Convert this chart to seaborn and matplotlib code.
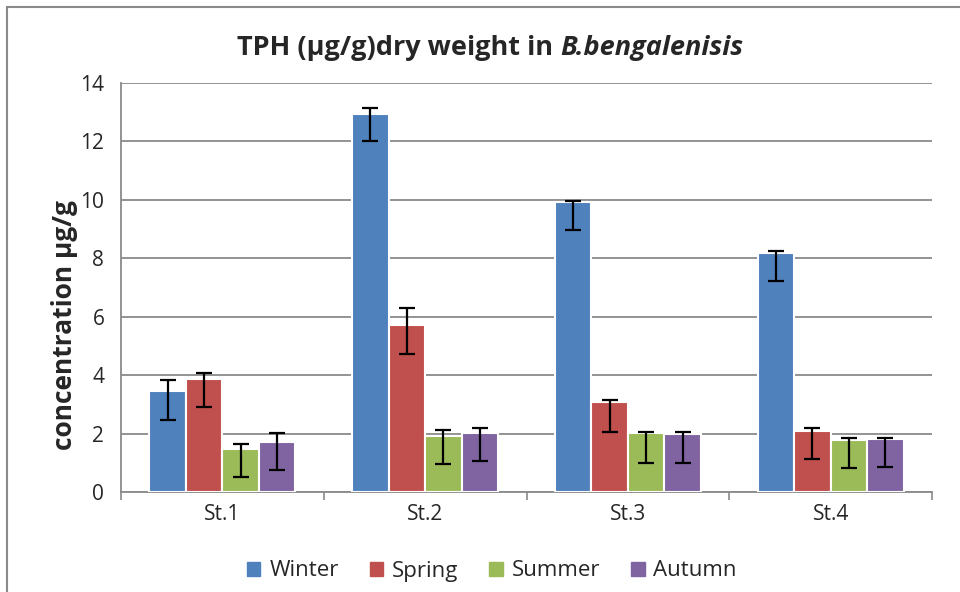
import pandas as pd
import seaborn as sns
import matplotlib.pyplot as plt
from matplotlib.patches import Rectangle

stations = ['St.1', 'St.2', 'St.3', 'St.4']
seasons = ['Winter', 'Spring', 'Summer', 'Autumn']
colors = ['#4F81BD', '#C0504D', '#9BBB59', '#8064A2']

winter = [3.47, 12.94, 9.92, 8.17]
spring = [3.88, 5.70, 3.09, 2.09]
summer = [1.48, 1.92, 2.02, 1.78]
autumn = [1.72, 2.02, 2.00, 1.82]

# error bar ends (asymmetric)
err_low = {
    'Winter': [2.47, 12.01, 8.96, 7.21],
    'Spring': [2.92, 4.74, 2.06, 1.13],
    'Summer': [0.51, 0.96, 1.00, 0.82],
    'Autumn': [0.75, 1.06, 1.00, 0.86],
}
err_high = {
    'Winter': [3.84, 13.14, 9.95, 8.24],
    'Spring': [4.08, 6.31, 3.16, 2.20],
    'Summer': [1.65, 2.13, 2.06, 1.85],
    'Autumn': [2.02, 2.20, 2.06, 1.86],
}

values = {'Winter': winter, 'Spring': spring, 'Summer': summer, 'Autumn': autumn}
rows = []
for s in seasons:
    for st, v in zip(stations, values[s]):
        rows.append({'Station': st, 'Season': s, 'TPH': v})
df = pd.DataFrame(rows)

sns.set_style('white')
plt.rcParams['font.family'] = ['Open Sans', 'DejaVu Sans']

fig = plt.figure(figsize=(9.6, 5.92), dpi=100)
ax = fig.add_axes([121 / 960, 1 - 492 / 592, (932 - 121) / 960, (492 - 83) / 592])

sns.barplot(data=df, x='Station', y='TPH', hue='Season', order=stations,
            hue_order=seasons, palette=colors, width=0.72, edgecolor='white',
            linewidth=1.5, errorbar=None, saturation=1, ax=ax, zorder=3)

for cont, s in zip(ax.containers, seasons):
    for bar, v, lo, hi in zip(cont, values[s], err_low[s], err_high[s]):
        xc = bar.get_x() + bar.get_width() / 2
        ax.errorbar(xc, v, yerr=[[v - lo], [hi - v]], fmt='none', ecolor='black',
                    elinewidth=1.6, capsize=5.5, capthick=1.6, zorder=5)

ax.set_ylim(0, 14)
ax.set_xlim(-0.5, 3.5)
ax.set_yticks(range(0, 15, 2))
ax.yaxis.grid(True, color='#8a8a8a', linewidth=1.3, zorder=0)
ax.set_axisbelow(True)
ax.set_xticks([x - 0.5 for x in range(5)], minor=True)
ax.tick_params(axis='x', which='major', length=0, pad=9, labelsize=15)
ax.tick_params(axis='x', which='minor', length=6, width=1.2, color='#8a8a8a', direction='out')
ax.tick_params(axis='y', length=6, width=1.2, color='#8a8a8a', direction='out', labelsize=15, pad=6)
ax.tick_params(axis='x', which='both', bottom=True)
for side in ['top', 'right']:
    ax.spines[side].set_visible(False)
for side in ['left', 'bottom']:
    ax.spines[side].set_color('#8a8a8a')
    ax.spines[side].set_linewidth(1.3)
ax.set_xlabel('')
ax.set_ylabel('')

fig.text(65 / 960, 1 - 325 / 592, 'concentration µg/g', rotation=90, fontsize=19,
         fontweight='bold', ha='center', va='center')

# title in two pieces: bold, then bold italic species name, centred together
ty = 1 - 48 / 592
t1 = fig.text(0, ty, 'TPH (µg/g)dry weight in ', fontsize=19.5,
              fontweight='bold', ha='left', va='center')
t2 = fig.text(0, ty, 'B.bengalenisis', fontsize=19.5,
              fontweight='bold', fontstyle='italic', ha='left', va='center')
fig.canvas.draw()
w1 = t1.get_window_extent().width
w2 = t2.get_window_extent().width
x0 = 490 - (w1 + w2) / 2
t1.set_x(x0 / 960)
t2.set_x((x0 + w1) / 960)

ax.legend_.remove()
handles = [Rectangle((0, 0), 1, 1, color=c) for c in colors]
fig.legend(handles, seasons, loc='center', bbox_to_anchor=(492 / 960, 1 - 571 / 592),
           ncol=4, frameon=False, fontsize=16, handlelength=0.6, handleheight=0.6,
           handletextpad=0.4, columnspacing=1.4)

fig.patches.append(Rectangle((7 / 960, -0.1), 1.2, 1 - 7 / 592 + 0.1, transform=fig.transFigure,
                             fill=False, edgecolor='#8a8a8a', linewidth=1.5))

fig.savefig('out.png', dpi=100)
